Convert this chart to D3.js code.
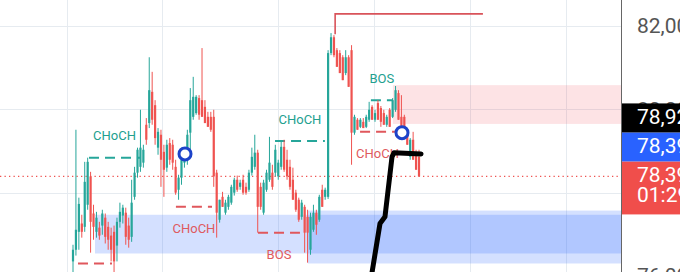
<!DOCTYPE html>
<meta charset='utf-8'>
<style>
body { margin: 0; background: #fff; }
svg { display: block; font-family: Roboto, 'Noto Sans', sans-serif; }
.grid line { stroke: #e6ebf0; stroke-width: 1; shape-rendering: crispEdges; }
.brk-label { font-size: 13px; text-anchor: middle; dominant-baseline: central; }
</style>
<svg width='680' height='272'></svg>
<script src='https://cdnjs.cloudflare.com/ajax/libs/d3/7.8.5/d3.min.js'></script>
<script>

// candles: [open, high, low, close]
const candles = [
  [76.35,76.75,76.01,76.63],[76.63,79.51,76.49,77.11],[77.06,77.88,76.63,77.73],[77.26,77.47,76.92,77.06],
  [77.18,78.74,77.06,78.26],[77.71,78.84,77.59,78.74],[78.39,78.50,76.56,77.30],[77.50,77.71,76.87,77.18],
  [77.06,77.54,76.92,77.40],[77.16,77.30,76.87,76.97],[77.21,77.59,76.99,77.50],[77.40,77.50,76.78,76.94],
  [77.18,77.30,76.63,76.87],[76.97,77.16,76.35,76.63],[77.06,77.21,75.79,76.35],[76.73,77.40,76.35,77.30],
  [77.30,77.76,77.16,77.54],[77.45,77.71,77.26,77.64],[77.52,77.64,76.75,76.94],[77.21,77.40,76.68,76.87],
  [76.94,78.31,76.82,77.76],[77.90,78.62,77.83,78.48],[78.48,79.08,78.36,79.03],[78.62,79.99,78.50,79.08],
  [78.72,79.15,78.60,79.03],[79.63,79.79,79.15,79.27],[79.67,81.25,79.55,80.46],[80.42,80.90,79.63,79.75],
  [80.10,80.22,79.15,79.31],[79.08,79.55,78.91,79.46],[79.39,79.51,78.14,78.79],[78.98,79.15,77.90,78.55],
  [78.60,79.27,78.50,79.15],[79.19,79.31,78.67,78.79],
  [79.15,79.27,78.55,78.72],[78.62,78.79,77.95,78.00],[78.07,78.43,77.83,78.36],[78.36,79.08,78.19,78.79],
  [78.72,79.03,78.60,78.84],[78.84,79.51,78.67,79.39],[79.44,80.51,79.03,80.22],[79.82,80.78,79.75,80.30],
  [79.91,80.34,79.87,80.30],[80.27,80.34,79.75,79.87],[80.22,81.47,79.82,79.82],[80.06,80.22,79.67,79.67],
  [79.82,79.94,79.58,79.58],[79.82,79.94,79.46,79.51],[79.82,79.99,78.14,78.39],[78.48,78.55,76.92,77.52],
  [77.35,77.83,77.28,77.83],[77.90,78.02,77.66,77.66],[77.52,77.83,77.47,77.76],[77.66,77.95,77.59,77.90],
  [77.76,78.19,77.71,78.14],[78.00,78.36,77.93,78.31],[78.31,78.41,78.02,78.07],[78.14,78.31,78.07,78.24],
  [78.31,78.43,77.95,78.00],[78.14,78.24,77.95,78.00],[78.07,78.55,78.02,78.48],[78.48,79.08,78.41,78.86],
  [78.62,79.39,78.55,78.96],[78.96,79.03,77.04,77.66],[78.14,78.24,77.59,77.66],[77.52,78.31,77.47,78.24],
  [78.07,78.55,78.02,78.48],[78.31,79.34,78.26,78.72],[78.48,78.67,78.07,78.14],[78.48,79.15,78.39,79.03],
  [78.39,78.79,78.31,78.72],[78.62,79.24,78.55,79.10],[79.10,79.27,78.50,78.55],[78.79,79.03,78.31,78.39],
  [78.62,78.79,78.07,78.14],[78.31,78.60,77.83,77.83],[78.00,78.07,77.54,77.59],[77.83,77.88,77.30,77.35],
  [77.42,77.83,77.35,77.76],[77.66,77.71,76.56,77.04],[77.42,77.59,76.32,77.04],[76.63,77.52,76.51,77.42],
  [77.11,77.71,77.06,77.52],[77.52,77.59,76.99,77.23],[77.35,77.95,77.30,77.90],[78.07,78.19,77.66,77.66],
  [77.90,78.12,77.83,78.07],[77.90,81.42,77.85,81.35],
  [81.35,81.83,81.30,81.73],[81.73,81.78,81.25,81.30],[81.42,81.47,81.02,81.02],[81.35,81.42,80.87,80.87],
  [81.25,81.30,80.70,80.70],[80.87,81.42,80.82,81.25],[81.25,81.30,80.54,80.54],[81.42,81.54,78.67,79.44],
  [79.44,79.87,79.39,79.82],[79.75,79.79,79.51,79.51],[79.58,79.79,79.55,79.75],[79.70,79.79,79.55,79.55],
  [79.58,79.87,79.55,79.82],[79.75,80.18,79.70,79.99],[80.06,80.10,79.75,79.75],[79.75,79.99,79.70,79.91],
  [80.15,80.22,79.75,79.75],[80.03,80.08,79.58,79.70],[79.91,79.99,79.63,79.63],[79.63,79.87,79.58,79.82],
  [79.99,80.03,79.58,79.58],[79.82,80.27,79.79,80.22],[79.99,80.56,79.94,80.46],[80.39,80.46,79.75,79.75],
  [79.82,80.34,79.58,79.58],[79.82,79.87,79.34,79.34],[79.39,79.51,79.15,79.15],[78.86,79.31,78.79,79.27],
  [79.27,79.46,78.79,78.79],[78.96,79.03,78.55,78.55],[78.86,79.03,78.39,78.39]
];

const priceTicks = [76, 78, 80, 82];
// vertical grid positions, in candle index units
const gridIdx = [-2.05, 30.35, 69.9, 102.7, 135.4, 168.1];

// structure breaks: dashed level from candle index to candle index
const breaks = [
  {from: 5.46, to: 22.85, price: 78.84, dir: 'up', text: 'CHoCH'},
  {from: 1.7, to: 13.3, price: 76.30, dir: 'down', text: ''},
  {from: 35.1, to: 47.4, price: 77.66, dir: 'down', text: 'CHoCH'},
  {from: 63.1, to: 77.4, price: 77.04, dir: 'down', text: 'BOS'},
  {from: 68.9, to: 85.9, price: 79.24, dir: 'up', text: 'CHoCH'},
  {from: 101.6, to: 109.1, price: 80.22, dir: 'up', text: 'BOS'},
  {from: 97.9, to: 109.8, price: 79.46, dir: 'down', text: 'CHoCH'}
];

const zones = [
  {from: 7.5, top: 77.47, bottom: 76.54, kind: 'demand'},
  {from: 80.1, top: 77.57, bottom: 76.30, kind: 'demand'},
  {from: 109.1, top: 80.58, bottom: 79.65, kind: 'supply'}
];

const strongHigh = {from: 89.4, to: 139.8, price: 82.29, anchor: 81.80};
const marks = [{i: 38.2, price: 78.93}, {i: 112.2, price: 79.44}];
// hand drawn stroke: [candle index, price]
const sketch = [[101.3, 75.79], [104.7, 77.26], [106.4, 77.42], [108.8, 78.86], [109.5, 78.96], [118.7, 78.93]];

const lastPrice = 78.39;
const priceTags = [
  {value: 78.39, fill: '#f04e4b', lines: ['78,39', '01:29']},
  {value: 78.39, fill: '#2962ff', lines: ['78,39']},
  {value: 78.92, fill: '#000000', lines: ['78,92']}
];

const green = '#26a69a', red = '#ef5350';
const svg = d3.select('svg'),
    width = +svg.attr('width'),
    height = +svg.attr('height'),
    plotRight = 621;

const x = d3.scaleLinear().domain([0, candles.length - 1]).range([73, 419]);
const y = d3.scaleLinear().domain([76, 82]).range([276, 26]);
const fmt = v => d3.format('.2f')(v).replace('.', ',');

// grid
const grid = svg.append('g').attr('class', 'grid');
grid.selectAll('.h').data(priceTicks).join('line')
    .attr('x1', 0).attr('x2', plotRight)
    .attr('y1', d => Math.round(y(d)) + 0.5).attr('y2', d => Math.round(y(d)) + 0.5);
grid.selectAll('.v').data(gridIdx).join('line')
    .attr('x1', d => Math.round(x(d)) + 0.5).attr('x2', d => Math.round(x(d)) + 0.5)
    .attr('y1', 0).attr('y2', height);

// zones
svg.append('g').selectAll('rect').data(zones).join('rect')
    .attr('x', d => x(d.from))
    .attr('width', d => plotRight - x(d.from))
    .attr('y', d => y(d.top))
    .attr('height', d => y(d.bottom) - y(d.top))
    .attr('fill', d => d.kind === 'supply' ? 'rgba(242,54,69,0.14)' : 'rgba(41,98,255,0.2)');

// last price dotted line
svg.append('line')
    .attr('x1', 0).attr('x2', plotRight)
    .attr('y1', y(lastPrice)).attr('y2', y(lastPrice))
    .attr('stroke', red).attr('stroke-width', 1.2)
    .attr('stroke-dasharray', '1.3,3.2');

// structure lines + labels
const brk = svg.append('g');
brk.selectAll('line').data(breaks).join('line')
    .attr('x1', d => x(d.from)).attr('x2', d => x(d.to))
    .attr('y1', d => y(d.price)).attr('y2', d => y(d.price))
    .attr('stroke', d => d.dir === 'up' ? green : '#e0575c')
    .attr('stroke-width', 2)
    .attr('stroke-dasharray', '10,6');
brk.selectAll('text').data(breaks.filter(d => d.text)).join('text')
    .attr('class', 'brk-label')
    .attr('x', d => (x(d.from) + x(d.to)) / 2)
    .attr('y', d => y(d.price) + (d.dir === 'up' ? -22 : 22))
    .attr('fill', d => d.dir === 'up' ? '#22a08f' : '#df5a60')
    .text(d => d.text);

// strong high
svg.append('path')
    .attr('d', `M${x(strongHigh.from)},${y(strongHigh.anchor)}V${y(strongHigh.price)}H${x(strongHigh.to)}`)
    .attr('fill', 'none').attr('stroke', '#d9535a').attr('stroke-width', 1.6);

// candles
const cg = svg.append('g').selectAll('g').data(candles).join('g')
    .attr('stroke', d => d[3] >= d[0] ? green : red)
    .attr('fill', d => d[3] >= d[0] ? green : red);
cg.append('line')
    .attr('x1', (d, i) => x(i)).attr('x2', (d, i) => x(i))
    .attr('y1', d => y(d[1])).attr('y2', d => y(d[2]))
    .attr('stroke-width', 1);
cg.append('rect')
    .attr('x', (d, i) => x(i) - 1.1)
    .attr('width', 2.2)
    .attr('y', d => y(Math.max(d[0], d[3])))
    .attr('height', d => Math.max(1, Math.abs(y(d[0]) - y(d[3]))))
    .attr('stroke', 'none');

// circles
svg.append('g').selectAll('circle').data(marks).join('circle')
    .attr('cx', d => x(d.i)).attr('cy', d => y(d.price)).attr('r', 6)
    .attr('fill', '#fff').attr('stroke', '#1d43c9').attr('stroke-width', 3);

// hand drawn stroke
svg.append('path')
    .attr('d', d3.line().x(d => x(d[0])).y(d => y(d[1])).curve(d3.curveLinear)(sketch))
    .attr('fill', 'none').attr('stroke', '#000').attr('stroke-width', 5)
    .attr('stroke-linecap', 'round').attr('stroke-linejoin', 'round');

// price scale
svg.append('rect').attr('x', plotRight).attr('y', 0)
    .attr('width', width - plotRight).attr('height', height).attr('fill', '#fff');
const axis = svg.append('g')
    .attr('transform', `translate(${plotRight},0)`)
    .call(d3.axisRight(y).tickValues(priceTicks).tickSize(0).tickPadding(16).tickFormat(fmt));
axis.select('.domain').remove();
axis.selectAll('text').attr('font-size', 21).attr('fill', '#555')
    .attr('font-family', 'Roboto, sans-serif');
svg.append('line')
    .attr('x1', plotRight + 0.5).attr('x2', plotRight + 0.5)
    .attr('y1', 0).attr('y2', height)
    .attr('stroke', '#666').attr('stroke-width', 1);

// price tags, stacked upward so they do not overlap
let prevTop = Infinity;
priceTags.forEach(t => {
  const h = 29 + (t.lines.length - 1) * 24;
  const top = Math.min(y(t.value) - 15, prevTop - h);
  prevTop = top;
  const g = svg.append('g');
  g.append('rect').attr('x', plotRight + 1).attr('y', top)
      .attr('width', width - plotRight).attr('height', h).attr('fill', t.fill);
  g.selectAll('text').data(t.lines).join('text')
      .attr('x', plotRight + 16).attr('y', (d, k) => top + 21 + k * 20)
      .attr('fill', '#fff').attr('font-size', 21)
      .text(d => d);
});
</script>
